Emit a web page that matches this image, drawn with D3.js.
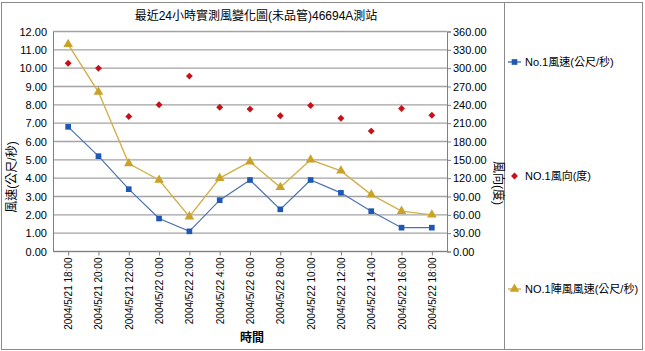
<!DOCTYPE html>
<html>
<head>
<meta charset="utf-8">
<script src="https://cdn.jsdelivr.net/npm/d3@7"></script>
<style>
    body { margin: 0; background: #fff; }
    svg text { font-family: "Liberation Sans", Arial, "Noto Sans CJK TC", sans-serif; }
</style>
</head>
<body>
<script>
// Categories (x axis) and the three series
var times = ["2004/5/21 18:00", "2004/5/21 20:00", "2004/5/21 22:00",
    "2004/5/22 0:00", "2004/5/22 2:00", "2004/5/22 4:00", "2004/5/22 6:00",
    "2004/5/22 8:00", "2004/5/22 10:00", "2004/5/22 12:00",
    "2004/5/22 14:00", "2004/5/22 16:00", "2004/5/22 18:00"];
var windSpeed = [6.8, 5.2, 3.4, 1.8, 1.1, 2.8, 3.9, 2.3, 3.9, 3.2, 2.2, 1.3, 1.3];
var windDir = [308, 300, 221, 240, 287, 236, 233, 222, 239, 218, 197, 234, 223];
var gustSpeed = [11.3, 8.7, 4.8, 3.9, 1.9, 4.0, 4.9, 3.5, 5.0, 4.4, 3.1, 2.2, 2.0];
var leftTicks = d3.range(0, 13, 1);
var rightTicks = d3.range(0, 361, 30);
var legendNames = ["No.1風速(公尺/秒)", "NO.1風向(度)", "NO.1陣風風速(公尺/秒)"];

var W = 645, H = 351;
var plot = {left: 53, right: 447, top: 31.5, bottom: 251.5};

var svg = d3.select("body").append("svg")
    .attr("width", W)
    .attr("height", H);

// outer frame and the legend separator
svg.append("rect")
    .attr("x", 1.5).attr("y", 2.5)
    .attr("width", 641).attr("height", 347)
    .attr("fill", "none").attr("stroke", "#8a8a8a");
svg.append("line")
    .attr("x1", 504.5).attr("x2", 504.5)
    .attr("y1", 2.5).attr("y2", 349.5)
    .attr("stroke", "#8a8a8a");

var x = d3.scalePoint().domain(times)
    .range([plot.left, plot.right]).padding(0.5);
var yL = d3.scaleLinear().domain([0, 12]).range([plot.bottom, plot.top]);
var yR = d3.scaleLinear().domain([0, 360]).range([plot.bottom, plot.top]);

// horizontal gridlines
svg.append("g").selectAll("line")
    .data(leftTicks)
    .enter().append("line")
    .attr("x1", plot.left).attr("x2", plot.right)
    .attr("y1", d => yL(d)).attr("y2", d => yL(d))
    .attr("stroke", "#a3a3a3")
    .attr("stroke-width", 1.4);

// left axis
var gL = svg.append("g")
    .attr("transform", "translate(" + plot.left + ",0)")
    .call(d3.axisLeft(yL).tickValues(leftTicks)
        .tickFormat(d3.format(".2f")).tickSize(0).tickPadding(6));
gL.select(".domain").attr("stroke", "#808080");
gL.selectAll("text").attr("font-size", "11px").attr("fill", "#000");

// right axis
var gR = svg.append("g")
    .attr("transform", "translate(" + plot.right + ",0)")
    .call(d3.axisRight(yR).tickValues(rightTicks)
        .tickFormat(d3.format(".2f")).tickSize(4).tickPadding(2));
gR.select(".domain").attr("stroke", "#808080");
gR.selectAll("line").attr("stroke", "#808080");
gR.selectAll("text").attr("font-size", "11px").attr("fill", "#000");

// bottom axis with rotated labels
var gX = svg.append("g")
    .attr("transform", "translate(0," + plot.bottom + ")")
    .call(d3.axisBottom(x).tickSize(4).tickSizeOuter(0));
gX.select(".domain").attr("stroke", "#808080")
    .attr("d", "M" + plot.left + ",0H" + plot.right);
gX.selectAll("line").attr("stroke", "#808080");
gX.selectAll("text")
    .attr("font-size", "10px").attr("fill", "#000")
    .attr("transform", "rotate(-90)")
    .attr("x", -6).attr("y", 0).attr("dy", ".35em")
    .style("text-anchor", "end");

// series lines
var lineL = d3.line().x((d, i) => x(times[i])).y(d => yL(d));

svg.append("path")
    .datum(gustSpeed)
    .attr("d", lineL)
    .attr("fill", "none")
    .attr("stroke", "#d2b04c")
    .attr("stroke-width", 1.4);

svg.append("path")
    .datum(windSpeed)
    .attr("d", lineL)
    .attr("fill", "none")
    .attr("stroke", "#4a72b0")
    .attr("stroke-width", 1.2);

// markers
var tri = d3.symbol().type(d3.symbolTriangle).size(40);
var sq = d3.symbol().type(d3.symbolSquare).size(32);
var dia = d3.symbol().type(d3.symbolSquare).size(24);

svg.append("g").selectAll("path")
    .data(gustSpeed)
    .enter().append("path")
    .attr("d", tri)
    .attr("transform", (d, i) => "translate(" + x(times[i]) + "," + yL(d) + ")")
    .attr("fill", "#c9a227");

svg.append("g").selectAll("path")
    .data(windSpeed)
    .enter().append("path")
    .attr("d", sq)
    .attr("transform", (d, i) => "translate(" + x(times[i]) + "," + yL(d) + ")")
    .attr("fill", "#1d58b5");

svg.append("g").selectAll("path")
    .data(windDir)
    .enter().append("path")
    .attr("d", dia)
    .attr("transform", (d, i) => "translate(" + x(times[i]) + "," + yR(d) +
        ") rotate(45)")
    .attr("fill", "#c8101a");

// title and axis titles
svg.append("text")
    .attr("x", 256).attr("y", 20)
    .attr("text-anchor", "middle")
    .attr("font-size", "12px")
    .text("最近24小時實測風變化圖(未品管)46694A測站");

svg.append("text")
    .attr("transform", "translate(16,177) rotate(-90)")
    .attr("text-anchor", "middle")
    .attr("font-size", "12px")
    .text("風速(公尺/秒)");

svg.append("text")
    .attr("transform", "translate(494,183) rotate(90)")
    .attr("text-anchor", "middle")
    .attr("font-size", "12px")
    .text("風向(度)");

svg.append("text")
    .attr("x", 252).attr("y", 342)
    .attr("text-anchor", "middle")
    .attr("font-size", "12px")
    .attr("font-weight", "bold")
    .text("時間");

// legend
var legendY = [62, 176, 289];
var legend = svg.append("g");
legend.append("line")
    .attr("x1", 508).attr("x2", 521)
    .attr("y1", legendY[0]).attr("y2", legendY[0])
    .attr("stroke", "#4a72b0").attr("stroke-width", 1.4);
legend.append("path").attr("d", sq)
    .attr("transform", "translate(514.5," + legendY[0] + ")")
    .attr("fill", "#1d58b5");
legend.append("path").attr("d", dia)
    .attr("transform", "translate(514.5," + legendY[1] + ") rotate(45)")
    .attr("fill", "#c8101a");
legend.append("line")
    .attr("x1", 508).attr("x2", 521)
    .attr("y1", legendY[2]).attr("y2", legendY[2])
    .attr("stroke", "#d2b04c").attr("stroke-width", 1.4);
legend.append("path").attr("d", tri)
    .attr("transform", "translate(514.5," + legendY[2] + ")")
    .attr("fill", "#c9a227");
legend.selectAll("text.lg")
    .data(legendNames)
    .enter().append("text")
    .attr("class", "lg")
    .attr("x", 525)
    .attr("y", (d, i) => legendY[i])
    .attr("dy", ".35em")
    .attr("font-size", "11px")
    .text(d => d);
</script>
</body>
</html>
